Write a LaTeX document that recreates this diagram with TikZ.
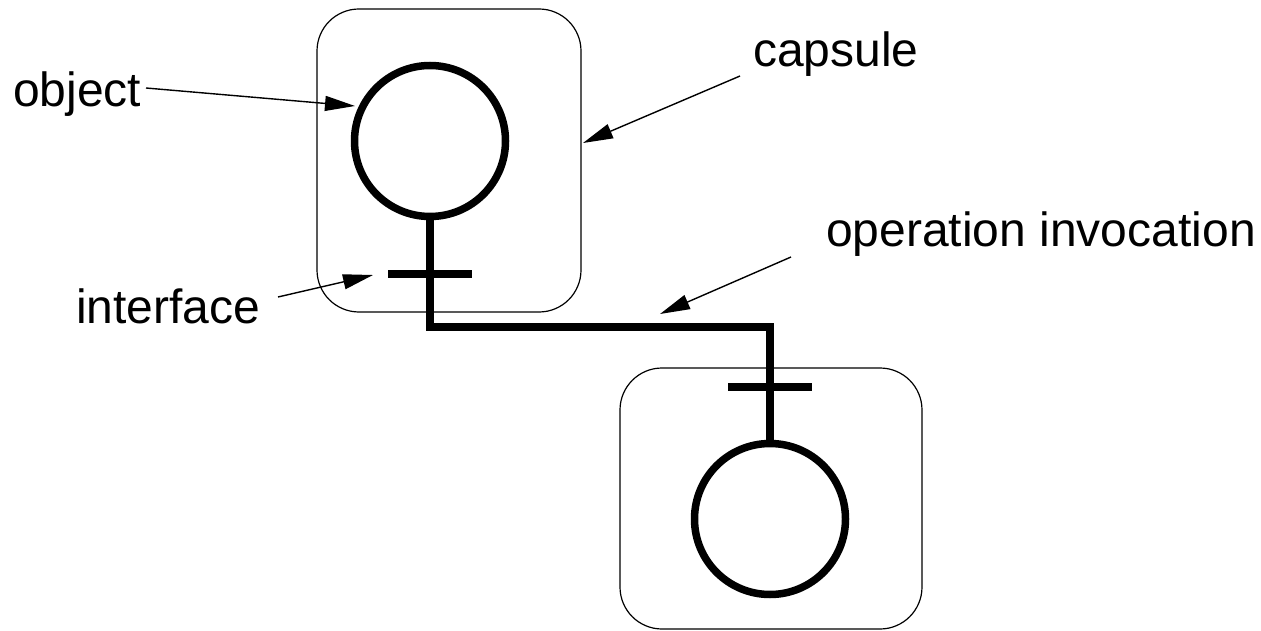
\documentclass[tikz,border=0pt]{standalone}
\usepackage{fontspec}
\setmainfont{Liberation Sans}
\usetikzlibrary{arrows.meta}
\begin{document}
\begin{tikzpicture}[x=1pt,y=-1pt,
  capsule/.style={draw,line width=1.2pt,rounded corners=42pt},
  obj/.style={circle,draw,line width=7.5pt,minimum size=151pt,inner sep=0pt},
  ifbar/.style={fill=black,minimum width=84pt,minimum height=7.5pt,inner sep=0pt},
  wire/.style={line width=7.5pt,line join=miter},
  label/.style={font=\fontsize{48}{50}\selectfont,anchor=base west,inner sep=0pt},
  pointer/.style={line width=1.4pt,-{Triangle[length=30pt,width=15pt]}}]
\useasboundingbox (0,0) rectangle (1261,631);
% capsules
\draw[capsule] (317,9) rectangle (581,312);
\draw[capsule] (620,368) rectangle (922,629);
% objects
\node[obj] (o1) at (430,141) {};
\node[obj] (o2) at (770,519) {};
% interfaces
\node[ifbar] (i1) at (430,274) {};
\node[ifbar] (i2) at (770,387) {};
% invocation wire
\coordinate (c1) at (430,327);
\coordinate (c2) at (770,327);
\draw[wire] (o1.south) -- (c1) -- (c2) -- (o2.north);
% labels
\node[label] (lobj) at (13,107) {object};
\node[label] (lcap) at (753,67) {capsule};
\node[label] (lint) at (76,323) {interface};
\node[label] (lop) at (826,247) {operation invocation};
% pointers
\coordinate (pObjT) at (146,88);
\coordinate (pObjH) at (355,106);
\coordinate (pCapT) at (740,76);
\coordinate (pCapH) at (583,143);
\coordinate (pIntT) at (278,297);
\coordinate (pIntH) at (373,275);
\coordinate (pOpT) at (791,257);
\coordinate (pOpH) at (660,314);
\draw[pointer] (pObjT) -- (pObjH);
\draw[pointer] (pCapT) -- (pCapH);
\draw[pointer] (pIntT) -- (pIntH);
\draw[pointer] (pOpT) -- (pOpH);
\end{tikzpicture}
\end{document}
